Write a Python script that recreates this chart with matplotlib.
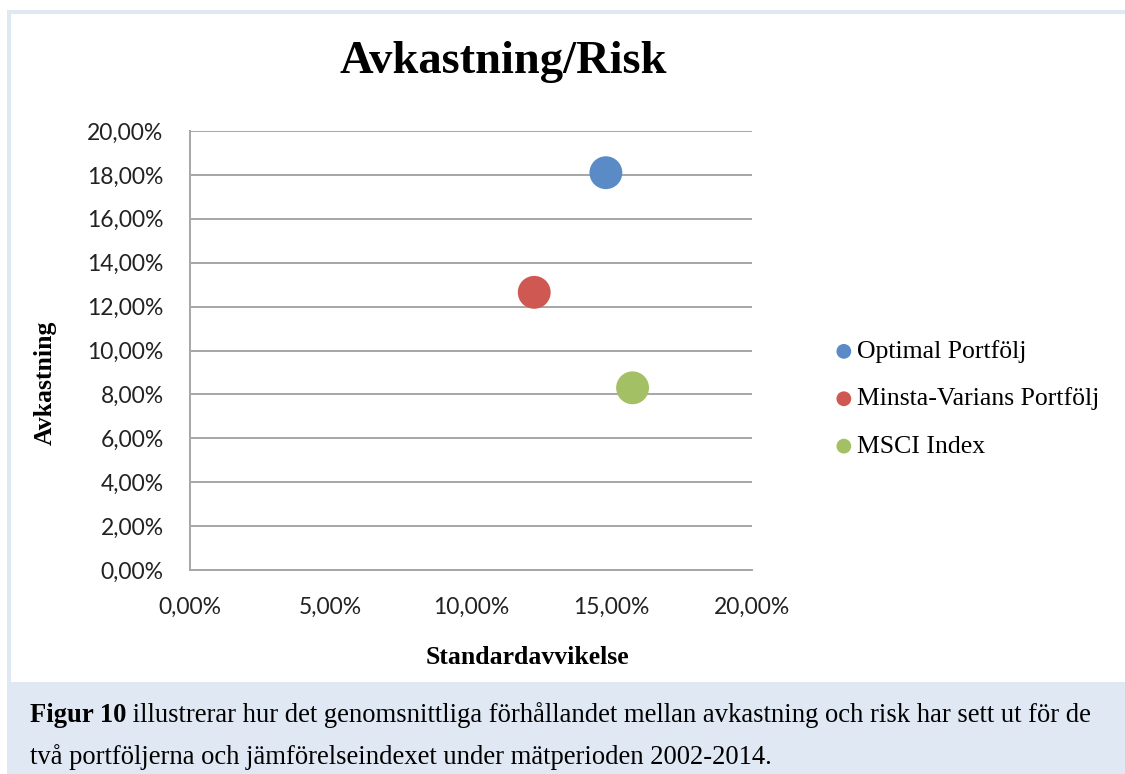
import matplotlib
matplotlib.use("Agg")
import matplotlib.pyplot as plt
from matplotlib.patches import Rectangle
from matplotlib.ticker import FuncFormatter, MultipleLocator

# ---- data ----
series = ["Optimal Portfölj", "Minsta-Varians Portfölj", "MSCI Index"]
std_dev = [14.8, 12.25, 15.75]       # % (x)
returns = [18.1, 12.65, 8.3]         # % (y)
colors = ["#5a8bc7", "#cf5852", "#a3c164"]
title = "Avkastning/Risk"
xlabel = "Standardavvikelse"
ylabel = "Avkastning"
caption_bold = "Figur 10"
caption_rest = " illustrerar hur det genomsnittliga förhållandet mellan avkastning och risk har sett ut för de"
caption_line2 = "två portföljerna och jämförelseindexet under mätperioden 2002-2014."

W, H = 1125, 774
fig = plt.figure(figsize=(W / 100, H / 100), dpi=100)
fig.patch.set_facecolor("white")

def px(x0, y0, x1, y1):
    # pixel box (top-left origin) -> figure fraction (x, y, w, h)
    return (x0 / W, 1 - y1 / H, (x1 - x0) / W, (y1 - y0) / H)

bg = "#dfe8f3"
x, y, w, h = px(7, 10, W, H)
fig.patches.append(Rectangle((x, y), w, h, transform=fig.transFigure, facecolor=bg, edgecolor="none", zorder=-10))
x, y, w, h = px(11, 14, W, 682)
fig.patches.append(Rectangle((x, y), w, h, transform=fig.transFigure, facecolor="white", edgecolor="none", zorder=-9))

ax = fig.add_axes(px(190, 131, 752, 570))
ax.set_facecolor("white")
for i in range(len(series)):
    ax.scatter(std_dev[i], returns[i], s=560, color=colors[i], label=series[i], zorder=3, edgecolors="none")

ax.set_xlim(0, 20)
ax.set_ylim(0, 20)
ax.xaxis.set_major_locator(MultipleLocator(5))
ax.yaxis.set_major_locator(MultipleLocator(2))
fmt = FuncFormatter(lambda v, p: f"{v:.2f}%".replace(".", ","))
ax.xaxis.set_major_formatter(fmt)
ax.yaxis.set_major_formatter(fmt)
ax.grid(axis="y", color="#a6a6a6", linewidth=1.4, zorder=1)
ax.set_axisbelow(True)
for s in ["top", "right"]:
    ax.spines[s].set_visible(False)
for s in ["left", "bottom"]:
    ax.spines[s].set_color("#a6a6a6")
    ax.spines[s].set_linewidth(1.4)
ax.tick_params(length=0, labelsize=16.5, colors="#222222")
ax.tick_params(axis="y", pad=19)
ax.tick_params(axis="x", pad=19)
for lab in ax.get_xticklabels() + ax.get_yticklabels():
    lab.set_fontfamily("Lato")

fig.text(503 / W, 1 - 62 / H, title, ha="center", va="center", fontsize=33.5,
         fontweight="bold", family="Liberation Serif")
fig.text(527 / W, 1 - 657 / H, xlabel, ha="center", va="center", fontsize=18.5,
         fontweight="bold", family="Liberation Serif")
fig.text(45 / W, 1 - 383 / H, ylabel, ha="center", va="center", fontsize=18.5,
         fontweight="bold", family="Liberation Serif", rotation=90)

leg = ax.legend(loc="center left", bbox_to_anchor=(831 / W, 1 - 399 / H), bbox_transform=fig.transFigure,
                frameon=False, prop={"family": "Liberation Serif", "size": 18.5},
                markerscale=0.45, handletextpad=0.0, labelspacing=0.95, handlelength=1.0,
                borderpad=0, borderaxespad=0)

# caption
t1 = fig.text(30 / W, 1 - 715 / H, caption_bold, ha="left", va="center", fontsize=19.2,
              fontweight="bold", family="Liberation Serif")
fig.canvas.draw()
bb = t1.get_window_extent()
fig.text(bb.x1 / W, 1 - 715 / H, caption_rest, ha="left", va="center", fontsize=19.2,
         family="Liberation Serif")
fig.text(30 / W, 1 - 757 / H, caption_line2, ha="left", va="center", fontsize=19.2,
         family="Liberation Serif")

fig.savefig("out.png", dpi=100, facecolor=fig.get_facecolor())
